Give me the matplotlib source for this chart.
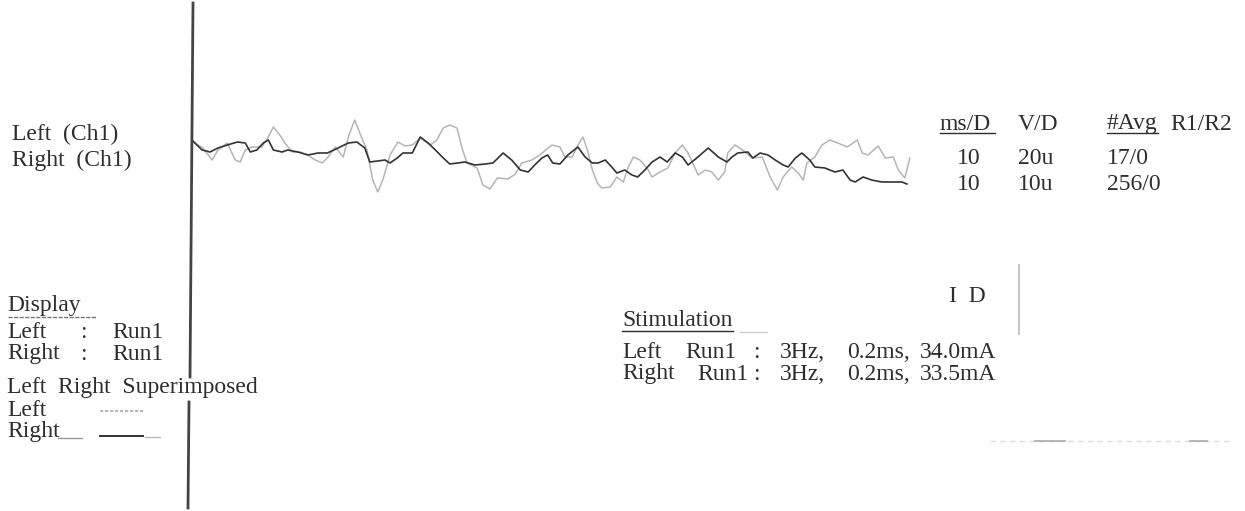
import matplotlib
matplotlib.use("Agg")
import matplotlib.pyplot as plt
import numpy as np

plt.rcParams['font.family'] = ['Liberation Serif', 'DejaVu Serif']

# evoked potential traces, time in ms, amplitude in uV
right_t = [0.0, 0.4, 1.4, 2.5, 3.6, 4.9, 6.3, 7.4, 8.1, 9.0, 9.9, 10.6, 11.3, 12.5, 13.3,
           14.7, 16.1, 17.5, 18.8, 20.3, 21.7, 22.9, 24.0, 24.7, 25.8, 26.8, 27.5, 28.5,
           29.3, 30.6, 31.7, 32.8, 33.8, 34.9, 35.8, 36.9, 37.9, 39.3, 40.7, 41.8, 43.2,
           44.4, 45.6, 46.7, 47.6, 48.6, 49.4, 50.1, 51.1, 52.2, 53.6, 54.6, 55.6, 56.4,
           57.4, 58.3, 59.0, 60.1, 61.1, 61.9, 62.9, 63.9, 65.0, 66.0, 67.1, 68.1, 68.9,
           70.1, 71.7, 73.1, 74.3, 75.0, 75.8, 77.2, 77.9, 78.9, 80.0, 81.0, 82.1, 82.8,
           83.8, 84.7, 85.8, 86.5, 87.9, 89.3, 90.4, 91.4, 92.1, 93.2, 94.4, 95.8, 97.2,
           98.6, 99.3]
right_uv = [2.5, 1.75, 0, -0.5, 0.5, 1.25, 2.0, 1.75, -0.5, 0, 1.75, 2.5, 0, -0.5, 0,
            -0.5, -1.25, -0.75, -0.75, 0.5, 1.75, 2.0, 0.5, -3.0, -2.75, -2.5, -3.25, -2.0,
            -0.75, -0.75, 3.25, 1.75, 0, -2.0, -3.5, -3.25, -3.0, -3.75, -3.5, -3.25, -0.75,
            -2.5, -5.0, -5.5, -3.75, -2.0, -1.25, -3.25, -3.5, -1.25, 0.75, -1.75, -3.25, -3.25,
            -2.5, -4.25, -5.75, -5.0, -6.25, -6.75, -5.0, -3.0, -1.75, -3.0, -0.75, -1.75, -3.75,
            -2.0, 0.5, -1.75, -3.0, -1.75, -0.75, -0.5, -2.0, -0.75, -1.25, -2.5, -3.75, -4.25,
            -2.0, -0.75, -2.5, -4.25, -4.5, -5.5, -5.0, -7.5, -8.0, -6.75, -7.5, -8.0, -8.0,
            -8.0, -8.5]

left_t = [0.0, 0.4, 1.5, 2.8, 3.6, 4.9, 6.0, 6.7, 7.4, 8.3, 9.7, 10.6, 11.3, 12.2, 12.9,
          13.9, 15.0, 16.1, 17.1, 18.1, 18.9, 19.9, 21.0, 21.8, 22.6, 23.3, 24.3, 25.1,
          25.8, 26.5, 27.5, 28.6, 29.6, 30.6, 31.7, 33.1, 34.0, 34.9, 35.8, 36.8, 37.5,
          38.2, 39.6, 40.4, 41.4, 42.4, 43.9, 44.9, 45.8, 47.2, 48.3, 49.3, 50.0, 51.1,
          51.8, 52.8, 53.6, 54.3, 55.0, 55.6, 56.3, 56.9, 58.1, 59.0, 59.9, 60.6, 61.3,
          62.2, 63.2, 63.9, 65.0, 66.1, 67.1, 68.1, 68.9, 70.3, 71.3, 72.2, 73.1, 74.0,
          74.4, 75.4, 76.5, 77.8, 79.2, 80.3, 81.3, 82.1, 83.3, 84.2, 84.9, 85.4, 86.5,
          87.5, 88.6, 89.7, 91.0, 92.4, 93.1, 93.9, 95.3, 96.3, 97.4, 98.1, 99.0, 99.7]
left_uv = [5.0, 3.5, 1.0, -5.0, 0, 3.5, -5.0, -6.0, 0, 1.5, 1.5, 6.5, 11.5, 7.5, 3.5,
           -1.0, -1.0, -2.5, -5.0, -6.5, -3.5, 1.5, -3.5, 7.5, 15.0, 8.5, 0, -15.0,
           -21.0, -15.0, -2.5, 4.0, 2.0, 2.5, 6.0, 2.5, 5.0, 11.0, 12.5, 11.0, 1.0,
           -6.5, -9.0, -17.5, -19.5, -14.0, -14.5, -12.0, -6.5, -5.0, -2.5, 0.5, 2.5, 1.5,
           -3.5, -3.5, 2.5, 6.5, -1.0, -10.0, -16.5, -19.0, -18.5, -13.5, -16.0, -8.5, -3.5,
           -5.0, -9.0, -13.5, -11.0, -9.0, -1.5, 2.5, -1.5, -12.5, -10.0, -11.0, -15.0, -11.0,
           -1.5, 2.5, 0, -4.0, -3.5, -13.5, -20.0, -13.5, -8.5, -11.5, -15.0, -6.5, -3.5,
           2.5, 5.0, 3.5, 1.5, 5.0, -1.5, -2.5, 2.0, -4.0, -3.5, -10.0, -14.0, -4.0]

# display settings
ms_per_div = [10, 10]
v_per_div = [20, 10]        # uV per division: Left, Right
v_per_div_lbl = ['20u', '10u']
avg_lbl = ['17/0', '256/0']

W, H = 1245, 511
fig = plt.figure(figsize=(W / 100, H / 100), dpi=100)
fig.patch.set_facecolor('white')

ov = fig.add_axes([0, 0, 1, 1])
ov.set_xlim(0, W)
ov.set_ylim(H, 0)
ov.axis('off')

ink = '#2e2e2e'
fs = 17

def txt(x, y, s, **kw):
    kw.setdefault('color', ink)
    kw.setdefault('fontsize', fs)
    ov.text(x, y, s, va='center', ha='left', **kw)

# vertical marker line
ov.plot([193, 190], [3, 377], color='#444444', lw=2.0)
ov.plot([189, 188], [402, 508], color='#444444', lw=2.0)

# channel labels
txt(12, 134, 'Left  (Ch1)')
txt(12, 160, 'Right  (Ch1)')

# header table
txt(940, 124, 'ms/D')
ov.plot([940, 995], [133, 133], color=ink, lw=1)
txt(1018, 124, 'V/D')
txt(1107, 124, '#Avg')
ov.plot([1107, 1158], [133, 133], color=ink, lw=1)
txt(1170, 124, 'R1/R2')
for i, yy in enumerate([158, 185]):
    txt(957, yy, str(ms_per_div[i]))
    txt(1018, yy, v_per_div_lbl[i])
    txt(1107, yy, avg_lbl[i])

# display block
txt(7, 305, 'Display')
ov.plot([8, 97], [317, 317], color='#777777', lw=1, ls=(0, (3, 1)))
txt(7, 332, 'Left')
txt(80, 332, ':')
txt(112, 332, 'Run1')
txt(7, 354, 'Right')
txt(80, 354, ':')
txt(112, 354, 'Run1')
txt(7, 388, 'Left  Right  Superimposed')
txt(7, 410, 'Left')
ov.plot([100, 143], [411, 411], color='#aaaaaa', lw=1.2, ls=(0, (2, 1)))
txt(7, 432, 'Right')
ov.plot([58, 82], [438, 438], color='#999999', lw=1)
ov.plot([100, 143], [436, 436], color='#333333', lw=1.4)
ov.plot([145, 160], [437, 437], color='#bbbbbb', lw=1)

# stimulation block
txt(622, 320, 'Stimulation')
ov.plot([622, 733], [331, 331], color=ink, lw=1)
ov.plot([740, 767], [332, 332], color='#cccccc', lw=1)
txt(622, 353, 'Left')
txt(685, 353, 'Run1')
txt(753, 353, ':')
txt(780, 353, '3Hz,')
txt(847, 353, '0.2ms,')
txt(920, 353, '34.0mA')
txt(622, 374, 'Right')
txt(697, 374, 'Run1')
txt(753, 374, ':')
txt(780, 374, '3Hz,')
txt(847, 374, '0.2ms,')
txt(920, 374, '33.5mA')
txt(949, 297, 'I  D')

# faint scan lines
ov.plot([1019, 1019], [265, 334], color='#bbbbbb', lw=1.2)
ov.plot([990, 1230], [441, 441], color='#dddddd', lw=1, ls=(0, (4, 3)))
ov.plot([1035, 1065], [441, 441], color='#aaaaaa', lw=1.2)
ov.plot([1190, 1207], [441, 441], color='#aaaaaa', lw=1.2)

# waveform axes: 10 divisions wide, 40 px per vertical division
ax = fig.add_axes([192 / W, (H - 250) / H, 720 / W, 200 / H])
ax.set_xlim(0, 10 * ms_per_div[0])
ax.set_ylim(-2.5, 2.5)
ax.axis('off')
ax.patch.set_alpha(0)
ax.plot(left_t, np.array(left_uv) / v_per_div[0], color='#b5b5b5', lw=1.1)
ax.plot(right_t, np.array(right_uv) / v_per_div[1], color='#333333', lw=1.2)

fig.savefig('out.png', dpi=100, facecolor='white')
